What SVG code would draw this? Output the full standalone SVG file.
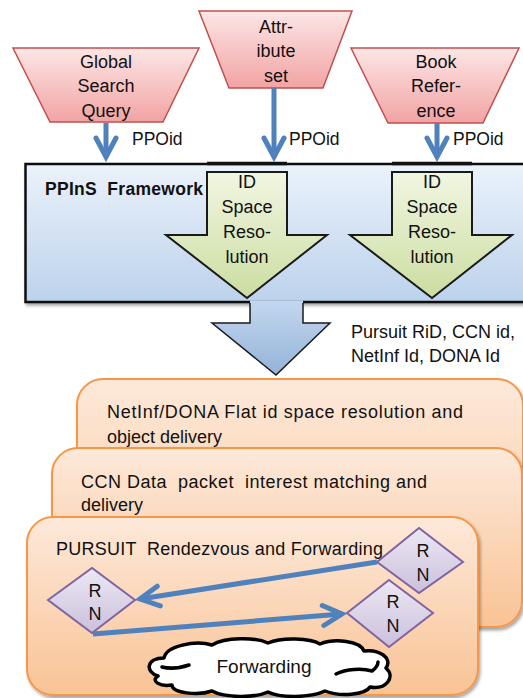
<svg xmlns="http://www.w3.org/2000/svg" width="523" height="698" viewBox="0 0 523 698">
<defs>
  <linearGradient id="gPink" x1="0" y1="0" x2="0" y2="1">
    <stop offset="0" stop-color="#fce6e6"/>
    <stop offset="1" stop-color="#f2a3a3"/>
  </linearGradient>
  <linearGradient id="gFrame" x1="0" y1="0" x2="0" y2="1">
    <stop offset="0" stop-color="#ebf2fb"/>
    <stop offset="1" stop-color="#bcd2ec"/>
  </linearGradient>
  <linearGradient id="gGreen" x1="0" y1="0" x2="0" y2="1">
    <stop offset="0" stop-color="#f1f6e2"/>
    <stop offset="1" stop-color="#cbdda0"/>
  </linearGradient>
  <linearGradient id="gBlue" x1="0" y1="0" x2="0" y2="1">
    <stop offset="0" stop-color="#c3d7ef"/>
    <stop offset="1" stop-color="#94b3d8"/>
  </linearGradient>
  <linearGradient id="gOrange" x1="0" y1="0" x2="0" y2="1">
    <stop offset="0" stop-color="#fde9da"/>
    <stop offset="1" stop-color="#f9c395"/>
  </linearGradient>
  <linearGradient id="gLav" x1="0" y1="0" x2="0" y2="1">
    <stop offset="0" stop-color="#ece8f3"/>
    <stop offset="1" stop-color="#cbc0dc"/>
  </linearGradient>
  <filter id="sh" x="-10%" y="-10%" width="120%" height="130%">
    <feDropShadow dx="1.5" dy="2.5" stdDeviation="1.5" flood-color="#000" flood-opacity="0.35"/>
  </filter>
  <marker id="arr" markerUnits="userSpaceOnUse" viewBox="-26 -15 32 30" refX="0" refY="0" markerWidth="32" markerHeight="30" orient="auto">
    <path d="M -19,-10 L 0,0 L -19,10" fill="none" stroke="#4f81bd" stroke-width="5" stroke-linejoin="miter" stroke-linecap="round"/>
  </marker>
  <style>
    text { font-family: "Liberation Sans", Arial, sans-serif; fill: #111; white-space: pre; }
    .t18 { font-size: 18px; }
    .t17 { font-size: 17.5px; }
    .ctr { text-anchor: middle; }
    .trap { fill: url(#gPink); stroke: #c0504d; stroke-width: 1.5; }
    .green { fill: url(#gGreen); stroke: #1a1a1a; stroke-width: 2; }
    .orange { fill: url(#gOrange); stroke: #f79646; stroke-width: 2; }
    .dia { fill: url(#gLav); stroke: #8064a2; stroke-width: 2; }
    .conn { fill: none; stroke: #4f81bd; stroke-width: 5; marker-end: url(#arr); }
  </style>
</defs>

<!-- Top source trapezoids -->
<g id="global-search-query">
  <polygon class="trap" points="13,48 199,48 163,122 50,122"/>
  <text class="t18 ctr" x="106" y="68">Global</text>
  <text class="t18 ctr" x="106" y="92">Search</text>
  <text class="t18 ctr" x="106" y="117">Query</text>
</g>
<g id="attribute-set">
  <polygon class="trap" points="199,11 352,11 323,88 229,88"/>
  <text class="t18 ctr" x="276" y="33">Attr-</text>
  <text class="t18 ctr" x="276" y="57">ibute</text>
  <text class="t18 ctr" x="276" y="82">set</text>
</g>
<g id="book-reference">
  <polygon class="trap" points="351,48 519,48 483,123 388,123"/>
  <text class="t18 ctr" x="436" y="68">Book</text>
  <text class="t18 ctr" x="436" y="92">Refer-</text>
  <text class="t18 ctr" x="436" y="117">ence</text>
</g>

<!-- PPInS framework -->
<g id="ppins-framework">
  <rect x="25.5" y="164" width="510" height="138" fill="url(#gFrame)" stroke="#111" stroke-width="2.5" filter="url(#sh)"/>
  <line x1="207" y1="163.5" x2="287" y2="163.5" stroke="#111" stroke-width="3.5"/>
  <line x1="392" y1="163.5" x2="472" y2="163.5" stroke="#111" stroke-width="3.5"/>
  <text x="45" y="195" style="font-size:17.5px;font-weight:bold" textLength="158" lengthAdjust="spacing">PPInS  Framework</text>
</g>

<g id="id-space-resolution-1">
  <polygon class="green" points="207,172 287,172 287,235 327,235 247,298 166,235 207,235"/>
  <text class="t18 ctr" x="247" y="188">ID</text>
  <text class="t18 ctr" x="247" y="213">Space</text>
  <text class="t18 ctr" x="247" y="238">Reso-</text>
  <text class="t18 ctr" x="247" y="263">lution</text>
</g>
<g id="id-space-resolution-2">
  <polygon class="green" points="392,172 472,172 472,235 512,235 432,298 350,235 392,235"/>
  <text class="t18 ctr" x="432" y="188">ID</text>
  <text class="t18 ctr" x="432" y="213">Space</text>
  <text class="t18 ctr" x="432" y="238">Reso-</text>
  <text class="t18 ctr" x="432" y="263">lution</text>
</g>

<!-- Orange layers -->
<g id="netinf-dona-layer">
  <rect class="orange" x="77" y="379" width="446" height="230" rx="26" filter="url(#sh)"/>
  <text x="107" y="418" class="t18" textLength="356" lengthAdjust="spacing">NetInf/DONA Flat id space resolution and</text>
  <text x="107" y="443" class="t18">object delivery</text>
</g>
<g id="ccn-layer">
  <rect class="orange" x="52" y="448" width="470" height="179" rx="26" filter="url(#sh)"/>
  <text x="81" y="488" class="t18" textLength="346" lengthAdjust="spacing">CCN Data  packet  interest matching and</text>
  <text x="81" y="511" class="t18">delivery</text>
</g>
<g id="pursuit-layer">
  <rect class="orange" x="27" y="517" width="451" height="178" rx="26" filter="url(#sh)"/>
  <text x="56" y="555" class="t18" textLength="327" lengthAdjust="spacing">PURSUIT  Rendezvous and Forwarding</text>
</g>

<!-- Blue resolution output arrow -->
<g id="id-output-arrow">
  <polygon points="250,300.5 303,300.5 303,323 330,323 276,375 212,323 250,323" fill="url(#gBlue)"/>
  <polyline points="250,303 250,323 212,323 276,375 330,323 303,323 303,303" fill="none" stroke="#1a1a1a" stroke-width="1.5" stroke-linejoin="miter"/>
  <text x="351" y="338" class="t18">Pursuit RiD, CCN id,</text>
  <text x="351" y="362" class="t18">NetInf Id, DONA Id</text>
</g>

<!-- Rendezvous nodes -->
<g id="rn-top-right">
  <polygon class="dia" points="377,562 419,528 463,562 419,593"/>
  <text class="t18 ctr" x="423" y="557">R</text>
  <text class="t18 ctr" x="423" y="581">N</text>
</g>
<g id="rn-left">
  <polygon class="dia" points="48,600 92,568 135,600 92,633"/>
  <text class="t18 ctr" x="95" y="597">R</text>
  <text class="t18 ctr" x="95" y="620">N</text>
</g>
<g id="rn-bottom-right">
  <polygon class="dia" points="347,613 389,580 433,613 389,647"/>
  <text class="t18 ctr" x="393" y="608">R</text>
  <text class="t18 ctr" x="393" y="632">N</text>
</g>

<!-- Forwarding cloud -->
<g id="forwarding-cloud">
  <path d="M 158,676 C 145,672 146,658 164,658 C 166,646 195,640 212,645 C 225,637 255,637 268,643 C 282,637 310,638 320,644 C 335,638 360,641 364,651 C 379,649 393,658 386,668 C 396,677 386,690 370,687 C 365,695 340,697 325,691 C 310,698 280,698 268,692 C 255,698 225,698 212,691 C 198,696 172,693 172,685 C 160,687 150,681 158,676 Z" fill="#fff" stroke="#000" stroke-width="3.5" stroke-linejoin="round"/>
  <path d="M 162,667 C 170,669 180,668 189,665" fill="none" stroke="#000" stroke-width="3.5" stroke-linecap="round"/>
  <path d="M 336,674 C 346,669 362,668 372,671 M 372,671 C 376,668 378,665 378,662" fill="none" stroke="#000" stroke-width="3.5" stroke-linecap="round"/>
  <text class="ctr" x="264" y="673" style="font-size:19px">Forwarding</text>
</g>

<!-- Connectors -->
<g id="connectors">
  <line class="conn" x1="106" y1="123" x2="106" y2="157"/>
  <line class="conn" x1="274" y1="88" x2="274" y2="157"/>
  <line class="conn" x1="437" y1="123" x2="437" y2="157"/>
  <text x="132" y="145" class="t17">PPOid</text>
  <text x="289" y="145" class="t17">PPOid</text>
  <text x="453" y="145" class="t17">PPOid</text>
  <line class="conn" x1="377" y1="562" x2="140" y2="599"/>
  <line class="conn" x1="93" y1="634" x2="342" y2="614"/>
</g>
</svg>
